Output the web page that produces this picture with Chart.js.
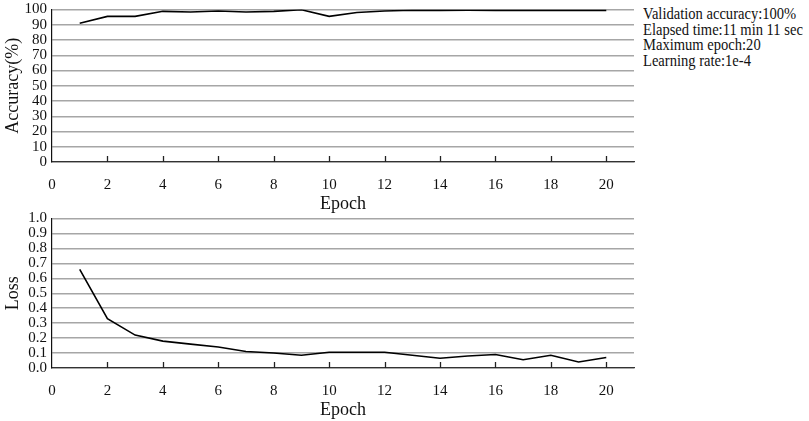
<!DOCTYPE html>
<html>
<head>
<meta charset="utf-8">
<script src="https://cdn.jsdelivr.net/npm/chart.js@4/dist/chart.umd.min.js"></script>
<style>
  body { margin: 0; background: #fff; width: 809px; height: 421px; position: relative; overflow: hidden; }
  .box { position: absolute; left: 0; width: 640px; }
  #info { position: absolute; left: 643px; top: 6px; font: 16px "Liberation Serif", serif; line-height: 15.5px; color: #111; white-space: nowrap; transform: scaleX(0.91); transform-origin: left top; }
</style>
</head>
<body>
<div class="box" style="top:-3px;height:218px"><canvas id="acc"></canvas></div>
<div class="box" style="top:206px;height:215px"><canvas id="loss"></canvas></div>
<div id="info">
  Validation accuracy:100%<br>
  Elapsed time:11 min 11 sec<br>
  Maximum epoch:20<br>
  Learning rate:1e-4
</div>
<script>
const epochs = [1, 2, 3, 4, 5, 6, 7, 8, 9, 10, 11, 12, 13, 14, 15, 16, 17, 18, 19, 20];
const accuracy = [91, 95.5, 95.5, 98.8, 98.4, 99, 98.4, 98.8, 99.8, 95.5, 98, 99, 99.5, 99.4, 99.5, 99.4, 99.4, 99.4, 99.4, 99.4];
const loss = [0.66, 0.33, 0.22, 0.18, 0.16, 0.14, 0.11, 0.10, 0.085, 0.105, 0.105, 0.105, 0.085, 0.065, 0.08, 0.09, 0.055, 0.085, 0.04, 0.07];
const xTicks = [2, 4, 6, 8, 10, 12, 14, 16, 18, 20];

const serif = "'Liberation Serif', 'Times New Roman', serif";

// small upward tick marks on the x axis
const innerTicks = {
  id: 'innerTicks',
  afterDraw(chart) {
    const ctx = chart.ctx, x = chart.scales.x, bottom = chart.chartArea.bottom;
    ctx.save();
    ctx.strokeStyle = '#222';
    ctx.lineWidth = 1.3;
    xTicks.forEach(v => {
      const px = Math.round(x.getPixelForValue(v)) + 0.5;
      ctx.beginPath();
      ctx.moveTo(px, bottom);
      ctx.lineTo(px, bottom - 6);
      ctx.stroke();
    });
    ctx.restore();
  }
};

function makeChart(id, values, yMax, yStep, yTitle, topPad, xHeight) {
  return new Chart(document.getElementById(id), {
    type: 'line',
    data: {
      datasets: [{
        data: epochs.map((e, i) => ({ x: e, y: values[i] })),
        borderColor: '#000',
        borderWidth: 1.6,
        pointRadius: 0,
        tension: 0,
        fill: false
      }]
    },
    options: {
      responsive: true,
      maintainAspectRatio: false,
      animation: false,
      layout: { padding: { top: topPad, right: 6, left: 0, bottom: 0 } },
      plugins: { legend: { display: false }, tooltip: { enabled: false } },
      scales: {
        x: {
          type: 'linear',
          min: 0,
          max: 21,
          afterBuildTicks: s => { s.ticks = s.ticks.filter(t => t.value <= 20); },
          afterFit: s => { s.height = xHeight; },
          ticks: { stepSize: 2, color: '#111', padding: 6, font: { family: serif, size: 15 }, maxRotation: 0 },
          grid: { display: false },
          border: { display: true, color: '#333', width: 1.2 },
          title: { display: true, text: 'Epoch', color: '#111', padding: 0, font: { family: serif, size: 18 } }
        },
        y: {
          min: 0,
          max: yMax,
          afterFit: s => { s.width = 52; },
          ticks: {
            stepSize: yStep,
            autoSkip: false,
            color: '#111',
            padding: 5,
            font: { family: serif, size: 15, lineHeight: 1 },
            callback: v => yMax === 1 ? v.toFixed(1) : v
          },
          grid: { color: '#a6a6a6', lineWidth: 1.5, drawTicks: false },
          border: { display: true, color: '#111', width: 1.2 },
          title: { display: true, text: yTitle, color: '#111', padding: { top: 2, bottom: 0 }, font: { family: serif, size: 18 } }
        }
      }
    },
    plugins: [innerTicks]
  });
}

makeChart('acc', accuracy, 100, 10, 'Accuracy(%)', 5, 53);
makeChart('loss', loss, 1, 0.1, 'Loss', 10, 53);
</script>
</body>
</html>
